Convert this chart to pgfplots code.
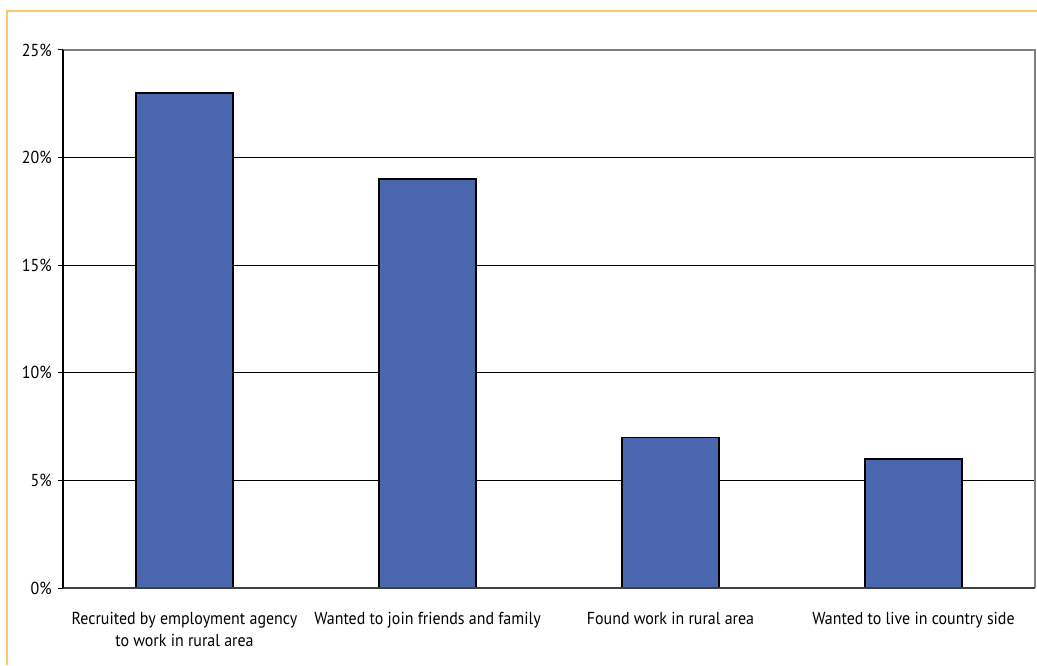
\documentclass[border=0pt]{standalone}
\usepackage{fontspec}
\setmainfont{PT Sans}[FakeStretch=0.92]
\usepackage{pgfplots}
\pgfplotsset{compat=1.18}
\definecolor{barblue}{RGB}{74,102,174}
\definecolor{frameorange}{RGB}{253,200,110}
\definecolor{framegray}{RGB}{128,128,128}
\definecolor{axisgray}{RGB}{64,64,64}
\begin{document}
\begin{tikzpicture}
\path[use as bounding box] (0pt,0pt) rectangle (777.75pt,498.75pt);
\draw[frameorange, line width=1.5pt] (5.25pt,0pt) -- (5.25pt,490.5pt) -- (777.75pt,490.5pt);
\begin{axis}[
  at={(47.25pt,57.75pt)}, anchor=south west,
  scale only axis, width=729pt, height=403.5pt,
  font=\fontsize{13}{16.5}\selectfont,
  xmin=-0.5, xmax=3.5, ymin=0, ymax=25,
  axis line style={draw=none},
  xtick={0,1,2,3},
  xticklabels={Recruited by employment agency\\to work in rural area,
               Wanted to join friends and family,
               Found work in rural area,
               Wanted to live in country side},
  xticklabel style={align=center, yshift=-11pt},
  major x tick style={draw=none},
  extra x ticks={-0.5,0.5,1.5,2.5,3.5},
  extra x tick labels={},
  extra x tick style={tick style={draw=axisgray, line width=0.75pt}},
  ytick={0,5,10,15,20,25},
  yticklabels={0\%,5\%,10\%,15\%,20\%,25\%},
  ytick pos=left, xtick pos=bottom, tick align=outside,
  major tick length=4pt,
  y tick style={black, line width=0.75pt},
  ymajorgrids, grid style={black, line width=0.75pt},
  yticklabel style={xshift=-1pt},
  clip=false,
]
\addplot[ybar, bar width=0.4, fill=barblue, draw=black, line width=1.2pt]
  coordinates {(0,23) (1,19) (2,7) (3,6)};
\draw[framegray, line width=1.5pt] (rel axis cs:0,1) -- (rel axis cs:1,1) -- (rel axis cs:1,0);
\draw[axisgray, line width=1.2pt] (rel axis cs:0,0) -- (rel axis cs:1,0);
\draw[black, line width=1pt] (rel axis cs:0,0) -- (rel axis cs:0,1);
\end{axis}
\end{tikzpicture}
\end{document}
